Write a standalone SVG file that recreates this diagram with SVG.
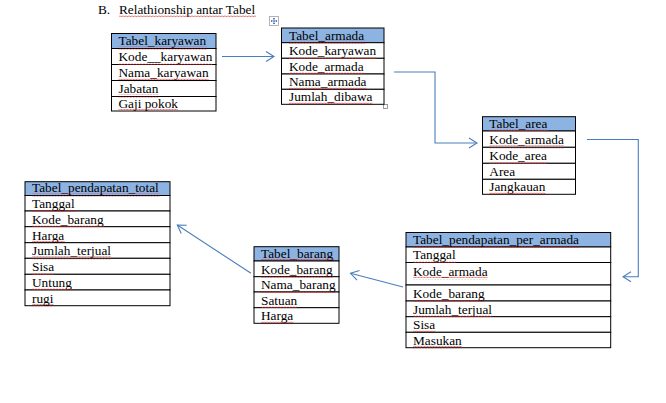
<svg xmlns="http://www.w3.org/2000/svg" width="666" height="403" viewBox="0 0 666 403">
<style>
.cell{fill:#fff;stroke:#000;stroke-width:1}
.hdr{fill:#8DB3E2;stroke:#000;stroke-width:1}
.t{font-family:"Liberation Serif","Times New Roman",serif;font-size:13.3px;fill:#000}
.sq{fill:url(#squig)}
.conn{fill:none;stroke:#4A7EBB;stroke-width:1.1}
.ah{fill:none;stroke:#4A7EBB;stroke-width:1.1}
</style>
<defs>
<pattern id="squig" x="0" y="0" width="3" height="3" patternUnits="userSpaceOnUse">
<path d="M0,0.5 L1.5,2 L3,0.5" fill="none" stroke="#E02B2B" stroke-width="0.8"/>
</pattern>
<marker id="arr" markerWidth="10" markerHeight="12" refX="9" refY="6" orient="auto" markerUnits="userSpaceOnUse">
<path class="ah" d="M1,1 L9,6 L1,11"/>
</marker>
</defs>
<rect width="666" height="403" fill="#fff"/>

<g id="title">
<text class="t" x="98" y="13.5">B.</text>
<text class="t" x="119" y="13.5">Relathionship antar Tabel</text>
<rect class="sq" x="119" y="15" width="137" height="3"/>
</g>

<g id="word-handles">
<rect x="269.5" y="16.5" width="9" height="9" fill="#fff" stroke="#A0A0A0" stroke-width="0.8"/>
<path d="M274,18 V24 M271,21 H277 M273,19 L274,18 L275,19 M273,23 L274,24 L275,23 M272,20 L271,21 L272,22 M276,20 L277,21 L276,22" fill="none" stroke="#3A6FC0" stroke-width="0.8"/>
<rect x="383.5" y="104.5" width="4" height="4" fill="#fff" stroke="#808080" stroke-width="0.8"/>
</g>

<g id="tabel_karyawan">
<rect class="hdr" x="111.5" y="33.5" width="104.5" height="15"/>
<rect class="cell" x="111.5" y="48.5" width="104.5" height="16"/>
<rect class="cell" x="111.5" y="64.5" width="104.5" height="16"/>
<rect class="cell" x="111.5" y="80.5" width="104.5" height="16"/>
<rect class="cell" x="111.5" y="96.5" width="104.5" height="14.5"/>
<text class="t" x="118.5" y="45.3">Tabel_karyawan</text>
<text class="t" x="118.5" y="61.3">Kode__karyawan</text>
<text class="t" x="118.5" y="77.3">Nama_karyawan</text>
<text class="t" x="118.5" y="93.3">Jabatan</text>
<text class="t" x="118.5" y="107.8">Gaji pokok</text>
<rect class="sq" x="118.5" y="46.5" width="88.6" height="3"/>
<rect class="sq" x="118.5" y="62.5" width="93.8" height="3"/>
<rect class="sq" x="118.5" y="78.5" width="90.1" height="3"/>
<rect class="sq" x="118.5" y="94.5" width="39.9" height="3"/>
<rect class="sq" x="118.5" y="109" width="59.5" height="3"/>
</g>

<g id="tabel_armada">
<rect class="hdr" x="281.5" y="28" width="102.5" height="14.7"/>
<rect class="cell" x="281.5" y="42.7" width="102.5" height="15.6"/>
<rect class="cell" x="281.5" y="58.3" width="102.5" height="15.7"/>
<rect class="cell" x="281.5" y="74" width="102.5" height="15.3"/>
<rect class="cell" x="281.5" y="89.3" width="102.5" height="15"/>
<text class="t" x="289" y="39.5">Tabel_armada</text>
<text class="t" x="289" y="55.1">Kode_karyawan</text>
<text class="t" x="289" y="70.8">Kode_armada</text>
<text class="t" x="289" y="86.1">Nama_armada</text>
<text class="t" x="289" y="101.1">Jumlah_dibawa</text>
<rect class="sq" x="289" y="40.7" width="76.1" height="3"/>
<rect class="sq" x="289" y="56.3" width="87.2" height="3"/>
<rect class="sq" x="289" y="72" width="74.6" height="3"/>
<rect class="sq" x="289" y="87.3" width="77.6" height="3"/>
<rect class="sq" x="289" y="102.3" width="83.5" height="3"/>
</g>

<g id="tabel_area">
<rect class="hdr" x="482.5" y="116.7" width="93" height="14.3"/>
<rect class="cell" x="482.5" y="131" width="93" height="16.3"/>
<rect class="cell" x="482.5" y="147.3" width="93" height="16"/>
<rect class="cell" x="482.5" y="163.3" width="93" height="16"/>
<rect class="cell" x="482.5" y="179.3" width="93" height="15"/>
<text class="t" x="489.3" y="127.8">Tabel_area</text>
<text class="t" x="489.3" y="144.1">Kode_armada</text>
<text class="t" x="489.3" y="160.1">Kode_area</text>
<text class="t" x="489.3" y="176.1">Area</text>
<text class="t" x="489.3" y="191.1">Jangkauan</text>
<rect class="sq" x="489.3" y="129" width="59.1" height="3"/>
<rect class="sq" x="489.3" y="145.3" width="74.6" height="3"/>
<rect class="sq" x="489.3" y="161.3" width="57.6" height="3"/>
<rect class="sq" x="489.3" y="192.3" width="56.1" height="3"/>
</g>

<g id="tabel_pendapatan_total">
<rect class="hdr" x="25" y="181.7" width="145" height="13.8"/>
<rect class="cell" x="25" y="195.5" width="145" height="15.5"/>
<rect class="cell" x="25" y="211" width="145" height="15.7"/>
<rect class="cell" x="25" y="226.7" width="145" height="16"/>
<rect class="cell" x="25" y="242.7" width="145" height="15.6"/>
<rect class="cell" x="25" y="258.3" width="145" height="16"/>
<rect class="cell" x="25" y="274.3" width="145" height="15.7"/>
<rect class="cell" x="25" y="290" width="145" height="15.7"/>
<text class="t" x="32" y="192.3">Tabel_pendapatan_total</text>
<text class="t" x="32" y="207.8">Tanggal</text>
<text class="t" x="32" y="223.5">Kode_barang</text>
<text class="t" x="32" y="239.5">Harga</text>
<text class="t" x="32" y="255.1">Jumlah_terjual</text>
<text class="t" x="32" y="271.1">Sisa</text>
<text class="t" x="32" y="286.8">Untung</text>
<text class="t" x="32" y="302.5">rugi</text>
<rect class="sq" x="32" y="193.5" width="127.8" height="3"/>
<rect class="sq" x="32" y="209" width="43.6" height="3"/>
<rect class="sq" x="32" y="224.7" width="71.6" height="3"/>
<rect class="sq" x="32" y="240.7" width="32.5" height="3"/>
<rect class="sq" x="32" y="256.3" width="79.1" height="3"/>
<rect class="sq" x="32" y="272.3" width="22.2" height="3"/>
<rect class="sq" x="32" y="288" width="39.9" height="3"/>
<rect class="sq" x="32" y="303.7" width="21.4" height="3"/>
</g>

<g id="tabel_barang">
<rect class="hdr" x="254" y="246.7" width="85" height="14.3"/>
<rect class="cell" x="254" y="261" width="85" height="15.7"/>
<rect class="cell" x="254" y="276.7" width="85" height="15.3"/>
<rect class="cell" x="254" y="292" width="85" height="15.7"/>
<rect class="cell" x="254" y="307.7" width="85" height="15.6"/>
<text class="t" x="261" y="257.8">Tabel_barang</text>
<text class="t" x="261" y="273.5">Kode_barang</text>
<text class="t" x="261" y="288.8">Nama_barang</text>
<text class="t" x="261" y="304.5">Satuan</text>
<text class="t" x="261" y="320.1">Harga</text>
<rect class="sq" x="261" y="259" width="73.1" height="3"/>
<rect class="sq" x="261" y="274.7" width="71.6" height="3"/>
<rect class="sq" x="261" y="290" width="74.6" height="3"/>
<rect class="sq" x="261" y="305.7" width="36.2" height="3"/>
<rect class="sq" x="261" y="321.3" width="32.5" height="3"/>
</g>

<g id="tabel_pendapatan_per_armada">
<rect class="hdr" x="406" y="232.5" width="204.7" height="14.5"/>
<rect class="cell" x="406" y="247" width="204.7" height="15.5"/>
<rect class="cell" x="406" y="262.5" width="204.7" height="22.5"/>
<rect class="cell" x="406" y="285" width="204.7" height="16"/>
<rect class="cell" x="406" y="301" width="204.7" height="15.7"/>
<rect class="cell" x="406" y="316.7" width="204.7" height="15.6"/>
<rect class="cell" x="406" y="332.3" width="204.7" height="15.4"/>
<text class="t" x="413" y="243.8">Tabel_pendapatan_per_armada</text>
<text class="t" x="413" y="259.3">Tanggal</text>
<text class="t" x="413" y="275.5">Kode_armada</text>
<text class="t" x="413" y="297.8">Kode_barang</text>
<text class="t" x="413" y="313.5">Jumlah_terjual</text>
<text class="t" x="413" y="329.1">Sisa</text>
<text class="t" x="413" y="344.5">Masukan</text>
<rect class="sq" x="413" y="245" width="166.9" height="3"/>
<rect class="sq" x="413" y="260.5" width="43.6" height="3"/>
<rect class="sq" x="413" y="276.7" width="74.6" height="3"/>
<rect class="sq" x="413" y="299" width="71.6" height="3"/>
<rect class="sq" x="413" y="314.7" width="79.1" height="3"/>
<rect class="sq" x="413" y="330.3" width="22.2" height="3"/>
<rect class="sq" x="413" y="345.7" width="48.8" height="3"/>
</g>

<g id="connectors">
<path class="conn" d="M222,56.5 H274" marker-end="url(#arr)"/>
<path class="conn" d="M394,72 H435 V143 H477" marker-end="url(#arr)"/>
<path class="conn" d="M587,139.5 H638.3 V276.7 H623" marker-end="url(#arr)"/>
<path class="conn" d="M403,287 L350.5,273.3" marker-end="url(#arr)"/>
<path class="conn" d="M251,273.3 L177.3,225" marker-end="url(#arr)"/>
</g>
</svg>
